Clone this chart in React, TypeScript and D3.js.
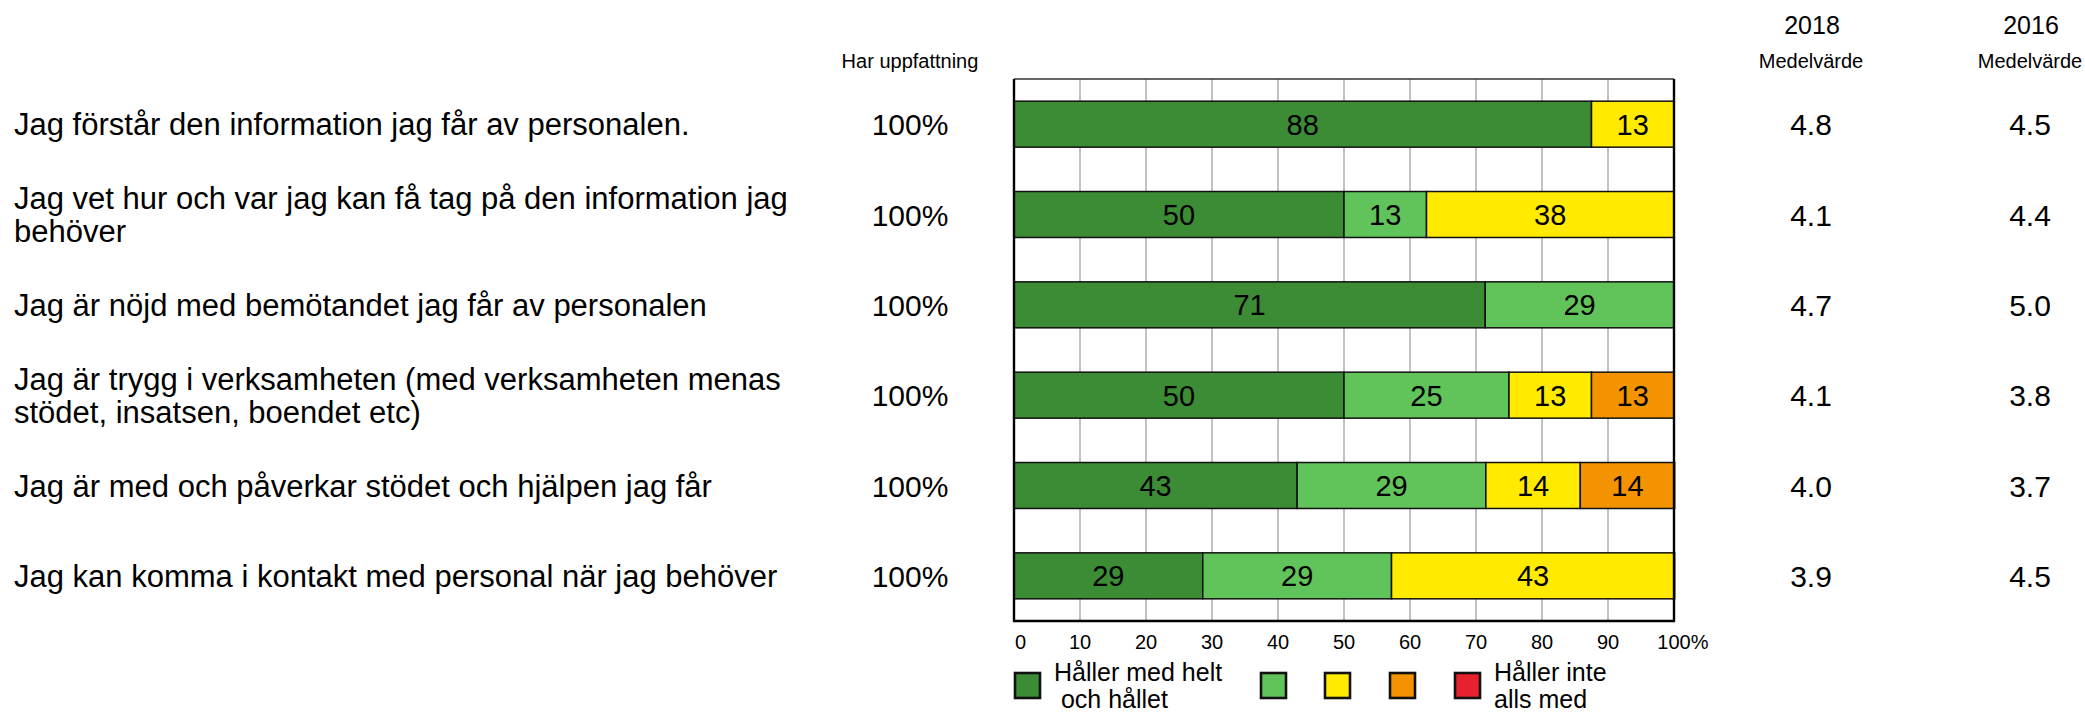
import * as d3 from "d3";
import { useEffect, useRef } from "react";

// questions (row labels, split in lines like the original)
const questions: string[][] = [
    ["Jag förstår den information jag får av personalen."],
    ["Jag vet hur och var jag kan få tag på den information jag", "behöver"],
    ["Jag är nöjd med bemötandet jag får av personalen"],
    ["Jag är trygg i verksamheten (med verksamheten menas", "stödet, insatsen, boendet etc)"],
    ["Jag är med och påverkar stödet och hjälpen jag får"],
    ["Jag kan komma i kontakt med personal när jag behöver"],
];

// share per answer step, % (helt och hållet ... inte alls)
const step1 = [87.5, 50, 71.4, 50, 42.9, 28.6];
const step2 = [0, 12.5, 28.6, 25, 28.6, 28.6];
const step3 = [12.5, 37.5, 0, 12.5, 14.3, 42.9];
const step4 = [0, 0, 0, 12.5, 14.3, 0];
const step5 = [0, 0, 0, 0, 0, 0];

const harUppfattning = ["100%", "100%", "100%", "100%", "100%", "100%"];
const mean2018 = [4.8, 4.1, 4.7, 4.1, 4.0, 3.9];
const mean2016 = [4.5, 4.4, 5.0, 3.8, 3.7, 4.5];

const xTicks = [0, 10, 20, 30, 40, 50, 60, 70, 80, 90, 100];
const stepColors = ["#3B8C35", "#60C45A", "#FFEA00", "#F39300", "#E8212F"];
const legendLabels = [["Håller med helt", " och hållet"], [], [], [], ["Håller inte", "alls med"]];

const FONT = "'Liberation Sans', Arial, Helvetica, sans-serif";

export default function App() {
    const svgRef = useRef(null);

    useEffect(() => {
        const svg = d3.select(svgRef.current);
        svg.selectAll("*").remove();
        const g = svg.append("g").style("font-family", FONT);

        const plotLeft = 1014, plotRight = 1674, plotTop = 79, plotBottom = 621;

        const x = d3.scaleLinear().domain([0, 100]).range([plotLeft, plotRight]);
        const y = d3.scaleBand<number>()
            .domain(questions.map((_, i) => i))
            .range([plotTop, plotBottom])
            .paddingInner(0.491)
            .paddingOuter(0.2455);
        const rowCenter = (i: number) => (y(i) as number) + y.bandwidth() / 2;

        // vertical gridlines
        g.append("g")
            .selectAll("line")
            .data(xTicks.filter(t => t > 0 && t < 100))
            .join("line")
            .attr("x1", d => x(d)).attr("x2", d => x(d))
            .attr("y1", plotTop).attr("y2", plotBottom)
            .attr("stroke", "#b3b3b3")
            .attr("stroke-width", 1.6);

        // stacked bars
        const steps = [step1, step2, step3, step4, step5];
        const rows = questions.map((_, i) => {
            const r: any = { i };
            steps.forEach((s, k) => r["s" + k] = s[i]);
            return r;
        });
        const stack = d3.stack<any>().keys(["s0", "s1", "s2", "s3", "s4"]);
        const series = stack(rows);

        series.forEach((ser, k) => {
            const segs = ser.filter(d => d[1] - d[0] > 0);
            g.append("g")
                .selectAll("rect")
                .data(segs)
                .join("rect")
                .attr("x", d => x(d[0]))
                .attr("width", d => x(d[1]) - x(d[0]))
                .attr("y", d => y(d.data.i) as number)
                .attr("height", y.bandwidth())
                .attr("fill", stepColors[k])
                .attr("stroke", "#111")
                .attr("stroke-width", 1.5);

            g.append("g")
                .selectAll("text")
                .data(segs)
                .join("text")
                .attr("x", d => (x(d[0]) + x(d[1])) / 2)
                .attr("y", d => rowCenter(d.data.i) + 10.5)
                .attr("text-anchor", "middle")
                .style("font-size", "29px")
                .attr("fill", "#000")
                .text(d => Math.round(d[1] - d[0]));
        });

        // plot frame
        g.append("line")
            .attr("x1", plotLeft).attr("x2", plotRight)
            .attr("y1", plotTop).attr("y2", plotTop)
            .attr("stroke", "#333").attr("stroke-width", 1.5);
        g.append("path")
            .attr("d", `M${plotLeft},${plotTop}V${plotBottom}H${plotRight}V${plotTop}`)
            .attr("fill", "none")
            .attr("stroke", "#000")
            .attr("stroke-width", 2.4);

        // x tick labels (0 sits inside, the % hangs after 100)
        g.append("g")
            .selectAll("text")
            .data(xTicks)
            .join("text")
            .attr("x", d => d === 100 ? x(d) - 16.7 : d === 0 ? x(d) + 1 : x(d))
            .attr("y", 649)
            .attr("text-anchor", d => d === 100 || d === 0 ? "start" : "middle")
            .style("font-size", "20px")
            .text(d => d === 100 ? "100%" : String(d));

        // question labels
        questions.forEach((lines, i) => {
            const lh = 33;
            const first = rowCenter(i) + 11 - (lines.length - 1) * lh / 2;
            const t = g.append("text")
                .attr("x", 14)
                .attr("y", first)
                .style("font-size", "31px");
            lines.forEach((l, j) => {
                t.append("tspan").attr("x", 14).attr("y", first + j * lh).text(l);
            });
        });

        // side columns
        const col = (cx: number, vals: string[]) => {
            g.append("g")
                .selectAll("text")
                .data(vals)
                .join("text")
                .attr("x", cx)
                .attr("y", (_, i) => rowCenter(i) + 11)
                .attr("text-anchor", "middle")
                .style("font-size", "30px")
                .text(d => d);
        };
        col(910, harUppfattning);
        col(1811, mean2018.map(v => v.toFixed(1)));
        col(2030, mean2016.map(v => v.toFixed(1)));

        const header = (cx: number, yy: number, size: number, txt: string) =>
            g.append("text")
                .attr("x", cx).attr("y", yy)
                .attr("text-anchor", "middle")
                .style("font-size", size + "px")
                .text(txt);
        header(910, 68, 20, "Har uppfattning");
        header(1812, 34, 25, "2018");
        header(1811, 68, 20, "Medelvärde");
        header(2031, 34, 25, "2016");
        header(2030, 68, 20, "Medelvärde");

        // legend
        const boxX = [plotLeft, 1260, 1324, 1389, 1454];
        const leg = g.append("g");
        stepColors.forEach((c, k) => {
            leg.append("rect")
                .attr("x", boxX[k] + 1).attr("y", 673)
                .attr("width", 25).attr("height", 25)
                .attr("fill", c)
                .attr("stroke", "#111")
                .attr("stroke-width", 2.6);
            const lines = legendLabels[k];
            if (lines.length) {
                const t = leg.append("text")
                    .style("font-size", "25px")
                    .attr("xml:space", "preserve");
                lines.forEach((l, j) => {
                    t.append("tspan")
                        .attr("x", boxX[k] + 40)
                        .attr("y", 681 + j * 27)
                        .text(l);
                });
            }
        });
    }, []);

    return (
        <svg ref={svgRef} width={2085} height={713}
            style={{ position: "absolute", left: 0, top: 0, background: "#fff" }} />
    );
}
